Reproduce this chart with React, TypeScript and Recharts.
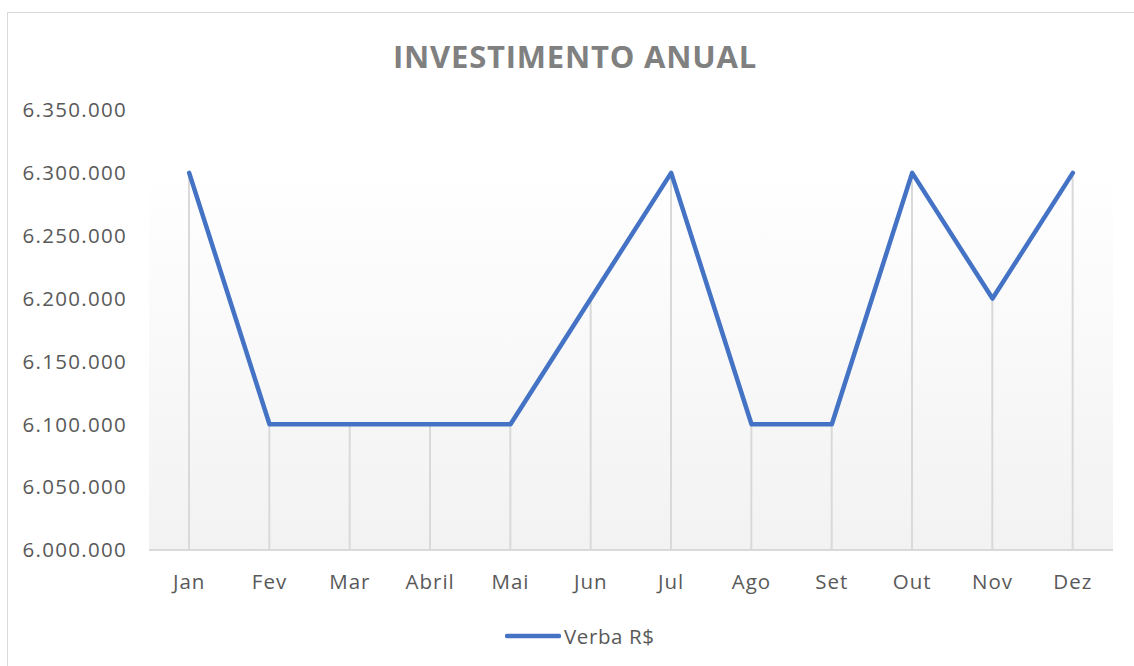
import { ComposedChart, Line, Bar, XAxis, YAxis, ReferenceArea } from 'recharts';

const months = ['Jan', 'Fev', 'Mar', 'Abril', 'Mai', 'Jun', 'Jul', 'Ago', 'Set', 'Out', 'Nov', 'Dez'];
const verba = [6300000, 6100000, 6100000, 6100000, 6100000, 6200000, 6300000, 6100000, 6100000, 6300000, 6200000, 6300000];
const yTicks = [6000000, 6050000, 6100000, 6150000, 6200000, 6250000, 6300000, 6350000];

const data = months.map((m, i) => ({ month: m, verba: verba[i] }));

const FONT = '"Open Sans", "Noto Sans", sans-serif';
const TEXT = '#595959';
const BLUE = '#4472C4';

// 6350000 -> "6.350.000"
const fmt = (v: number) => String(v).replace(/\B(?=(\d{3})+(?!\d))/g, '.');

export default function App() {
  return (
    <div style={{ position: 'fixed', inset: 0, overflow: 'hidden', background: '#fff' }}>
      <div
        style={{
          position: 'absolute',
          left: 7,
          top: 12,
          width: 1140,
          height: 670,
          border: '1px solid #d9d9d9',
          fontFamily: FONT,
        }}
      >
        {/* title */}
        <div
          style={{
            position: 'absolute',
            left: 0,
            width: 1134,
            top: 22,
            textAlign: 'center',
            fontSize: 31,
            fontWeight: 700,
            letterSpacing: 0.8,
            color: '#808080',
          }}
        >
          INVESTIMENTO ANUAL
        </div>

        <ComposedChart
          width={1130}
          height={650}
          data={data}
          margin={{ top: 97, right: 25, bottom: 63, left: 21 }}
          style={{ position: 'absolute', left: 0, top: 0 }}
        >
          <defs>
            <linearGradient id="plotBg" x1="0" y1="0" x2="0" y2="1">
              <stop offset="0%" stopColor="#ffffff" />
              <stop offset="100%" stopColor="#f2f2f2" />
            </linearGradient>
          </defs>
          <XAxis
            dataKey="month"
            axisLine={{ stroke: '#d9d9d9', strokeWidth: 2 }}
            tickLine={false}
            tickSize={0}
            tickMargin={24}
            height={50}
            interval={0}
            tick={{ fill: TEXT, fontSize: 20.5, fontFamily: FONT, letterSpacing: 1 }}
          />
          <YAxis
            domain={[6000000, 6350000]}
            ticks={yTicks}
            allowDataOverflow
            axisLine={false}
            tickLine={false}
            tickSize={0}
            tickMargin={22}
            width={120}
            tickFormatter={fmt}
            tick={{ fill: TEXT, fontSize: 20.5, fontFamily: FONT, letterSpacing: 1.3 }}
          />
          <ReferenceArea y1={6000000} y2={6303000} fill="url(#plotBg)" fillOpacity={1} stroke="none" />
          {/* drop lines */}
          <Bar dataKey="verba" barSize={2} fill="#d9d9d9" isAnimationActive={false} />
          <Line
            type="linear"
            dataKey="verba"
            stroke={BLUE}
            strokeWidth={4.5}
            strokeLinejoin="round"
            strokeLinecap="round"
            dot={false}
            activeDot={false}
            isAnimationActive={false}
          />
        </ComposedChart>

        {/* legend */}
        <div
          style={{
            position: 'absolute',
            left: 497,
            top: 609,
            display: 'flex',
            alignItems: 'center',
            gap: 3,
          }}
        >
          <svg width={56} height={10}>
            <line x1={2} y1={5} x2={54} y2={5} stroke={BLUE} strokeWidth={4.5} strokeLinecap="round" />
          </svg>
          <span style={{ fontSize: 20.5, color: TEXT, letterSpacing: 0.6 }}>Verba R$</span>
        </div>
      </div>
    </div>
  );
}
